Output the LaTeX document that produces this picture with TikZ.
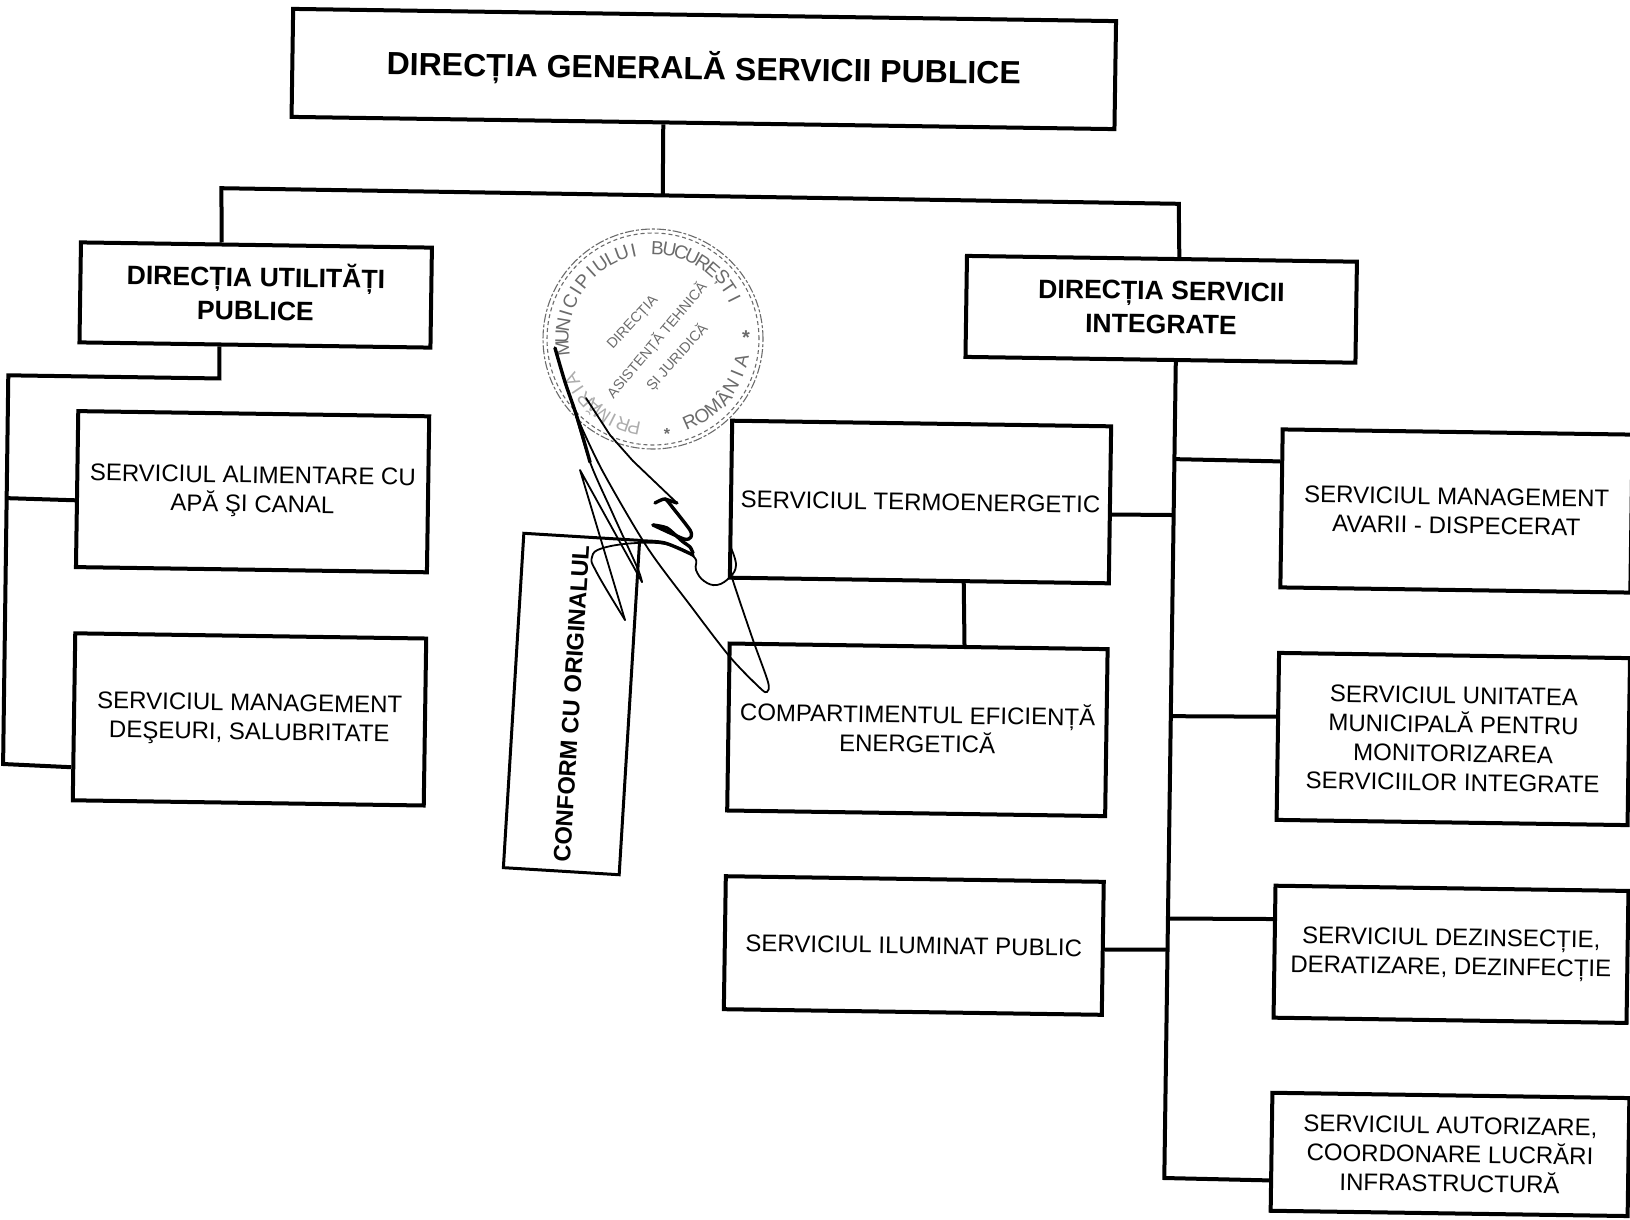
\documentclass[tikz,border=0pt]{standalone}
\usepackage{fontspec}
\setmainfont{Liberation Sans}
\usetikzlibrary{calc}
\definecolor{stampc}{gray}{0.42}
\definecolor{stampf}{gray}{0.68}
\tikzset{
  box/.style={draw=black,line width=4pt,rectangle,rotate=-0.85,inner sep=0pt,align=center,
     font=\fontsize{24}{29}\selectfont},
  dirbox/.style={box,font=\bfseries\fontsize{26.6}{33.5}\selectfont},
  titlebox/.style={box,font=\bfseries\fontsize{32}{38}\selectfont},
  wire/.style={draw=black,line width=4pt,line join=miter,line cap=butt},
  confbox/.style={draw=black,line width=3pt,rectangle,rotate=86.5,inner sep=0pt,
     font=\bfseries\fontsize{23.7}{28}\selectfont,minimum width=335pt,minimum height=116pt},
  pen/.style={draw=black,line width=1.8pt,line join=round,line cap=round},
  penthick/.style={pen,line width=3.4pt},
  stampline/.style={draw=stampc,line width=1.1pt,dash pattern=on 9pt off 2pt on 3pt off 2pt},
  stamptext/.style={text=stampc,font=\fontsize{14.3}{14.3}\selectfont,inner sep=0pt},
  ringtext/.style={text=stampc,font=\fontsize{19}{19}\selectfont,inner sep=0pt},
}
\begin{document}
\begin{tikzpicture}[x=1pt,y=-1pt]
\useasboundingbox (0,0) rectangle (1630,1219);
% ---- boxes
\node[titlebox,minimum width=823pt,minimum height=108pt] (top) at (703.8,69) {DIRECȚIA GENERALĂ SERVICII PUBLICE};
\node[dirbox,minimum width=351pt,minimum height=100pt] (dirU) at (255.7,295) {DIRECȚIA UTILITĂȚI\\PUBLICE\rule[-7pt]{0pt}{1pt}};
\node[dirbox,minimum width=390pt,minimum height=101pt] (dirI) at (1161.2,309.3) {DIRECȚIA SERVICII\\INTEGRATE\rule[-4pt]{0pt}{1pt}};
\node[box,minimum width=351pt,minimum height=156pt] (alim) at (252.6,491.7) {SERVICIUL ALIMENTARE CU\\APĂ ŞI CANAL};
\node[box,minimum width=351pt,minimum height=167pt] (des) at (249.5,719.4) {SERVICIUL MANAGEMENT\\DEŞEURI, SALUBRITATE};
\node[box,minimum width=379pt,minimum height=157pt] (termo) at (920.5,502) {SERVICIUL TERMOENERGETIC};
\node[box,minimum width=378pt,minimum height=167pt] (comp) at (917.4,729.8) {COMPARTIMENTUL EFICIENȚĂ\\ENERGETICĂ\rule[-5pt]{0pt}{1pt}};
\node[box,minimum width=378pt,minimum height=133pt] (ilum) at (913.8,945.5) {SERVICIUL ILUMINAT PUBLIC};
\node[box,minimum width=350pt,minimum height=158pt] (avar) at (1456.5,511) {SERVICIUL MANAGEMENT\\AVARII - DISPECERAT};
\node[box,minimum width=351pt,minimum height=167pt] (unit) at (1453.3,739) {SERVICIUL UNITATEA\\MUNICIPALĂ PENTRU\\MONITORIZAREA\\SERVICIILOR INTEGRATE};
\node[box,minimum width=353pt,minimum height=132pt] (dez) at (1451,954.3) {SERVICIUL DEZINSECȚIE,\\DERATIZARE, DEZINFECȚIE};
\node[box,minimum width=357pt,minimum height=118pt] (aut) at (1450,1154.4) {SERVICIUL AUTORIZARE,\\COORDONARE LUCRĂRI\\INFRASTRUCTURĂ};
\node[confbox] (conf) at (571.5,704) {CONFORM CU ORIGINALUL};
% ---- junctions
\coordinate (busL) at (221.4,188.2);
\coordinate (busR) at (1178.8,203.8);
\coordinate (busM) at ($(busL)!.461!(busR)$);
\coordinate (lT) at (8.3,375.3);
\coordinate (lB) at (3.1,764);
\coordinate (lJ) at ($(lT)!.316!(lB)$);
\coordinate (dU) at ($(dirU.south west)!.40!(dirU.south east)$);
\coordinate (lC) at ($(dU)+(0,32)$);
\coordinate (tT) at ($(dirI.south west)!.539!(dirI.south east)$);
\coordinate (tB) at (1164.3,1178);
% ---- connectors
\draw[wire] ($(top.south west)!.452!(top.south east)$) -- (busM);
\draw[wire] ($(dirU.north west)!.402!(dirU.north east)$) -- (busL) -- (busR) -- ($(dirI.north west)!.544!(dirI.north east)$);
\draw[wire] (dU) -- (lC) -- (lT) -- (lB) -- ($(des.north west)!.795!(des.south west)$);
\draw[wire] (lJ) -- ($(alim.north west)!.57!(alim.south west)$);
\draw[wire] (tT) -- (tB) -- ($(aut.north west)!.735!(aut.south west)$);
\draw[wire] ($(tT)!.119!(tB)$) -- ($(avar.north west)!.21!(avar.south west)$);
\draw[wire] ($(tT)!.1875!(tB)$) -- ($(termo.north east)!.56!(termo.south east)$);
\draw[wire] ($(tT)!.434!(tB)$) -- ($(unit.north west)!.385!(unit.south west)$);
\draw[wire] ($(tT)!.682!(tB)$) -- ($(dez.north west)!.26!(dez.south west)$);
\draw[wire] ($(tT)!.72!(tB)$) -- ($(ilum.north east)!.51!(ilum.south east)$);
\draw[wire] ($(termo.south west)!.616!(termo.south east)$) -- ($(comp.north west)!.62!(comp.north east)$);
% ---- stamp
\begin{scope}[shift={(653,339)},x=1pt,y=1pt]
  \draw[stampline] (0,0) circle[radius=110pt];
  \draw[stampline,dash pattern=on 4pt off 3pt] (0,0) circle[radius=106pt];
  \foreach \ch [count=\i from 0] in {M,U,N,I,C,I,P,I,U,L,U,I,{},B,U,C,U,R,E,Ș,T,I}
    \node[ringtext,rotate={186-7.6*\i-90}] (ra\i) at ({186-7.6*\i}:91pt) {\ch};
  \foreach \ch [count=\i from 0] in {P,R,I,M,Ă,R,I,A}
    \node[ringtext,text=stampf,rotate={258-7.3*\i-90}] (rb\i) at ({258-7.3*\i}:91pt) {\ch};
  \foreach \ch [count=\i from 0] in {R,O,M,Â,N,I,A}
    \node[ringtext,rotate={-66+8.7*\i+90}] (rc\i) at ({-66+8.7*\i}:91pt) {\ch};
  \node[stamptext,rotate=47] (st1) at (-20,16) {DIRECȚIA};
  \node[stamptext,rotate=50] (st2) at (4,-1) {ASISTENȚĂ TEHNICĂ};
  \node[stamptext,rotate=48] (st3) at (24,-18) {ȘI JURIDICĂ};
  \node[stamptext,font=\bfseries\fontsize{20}{20}\selectfont] (sa) at (93,1) {*};
  \node[stamptext,font=\bfseries\fontsize{16}{16}\selectfont] (sb) at (14,-95) {*};
\end{scope}
% ---- signature
\draw[penthick] plot[smooth] coordinates {(555,348) (565,382) (577,417) (590,462)};
\draw[pen] plot[smooth] coordinates {(572,402) (590,462) (612,512) (637,567) (642,582)};
\draw[pen] plot[smooth,tension=.5] coordinates {(577,417) (602,470) (647,547) (690,605) (730,657) (760,688) (767,692) (768,682) (753,640) (735,587) (731,572) (730,548)};
\draw[pen] plot[smooth,tension=.7] coordinates {(731,548) (736,565) (730,577) (717,585) (704,581) (696,570) (694,557) (670,545) (637,543) (603,548) (592,557) (597,573) (625,620)};
\draw[pen] (625,620) -- (580,470) -- (642,582);
\draw[penthick] plot[smooth] coordinates {(640,541) (665,543) (693,555)};
\draw[pen] (586,398) -- (610,435) -- (633,461) -- (677,503);
\draw[penthick] plot[smooth,tension=.4] coordinates {(655,503) (665,499) (673,508) (690,530) (691,537) (684,539) (653,525)};
\draw[penthick] plot[smooth,tension=.4] coordinates {(653,525) (667,528) (682,541) (690,547) (693,553)};
\draw[penthick] (665,499) -- (677,503);
\end{tikzpicture}
\end{document}
